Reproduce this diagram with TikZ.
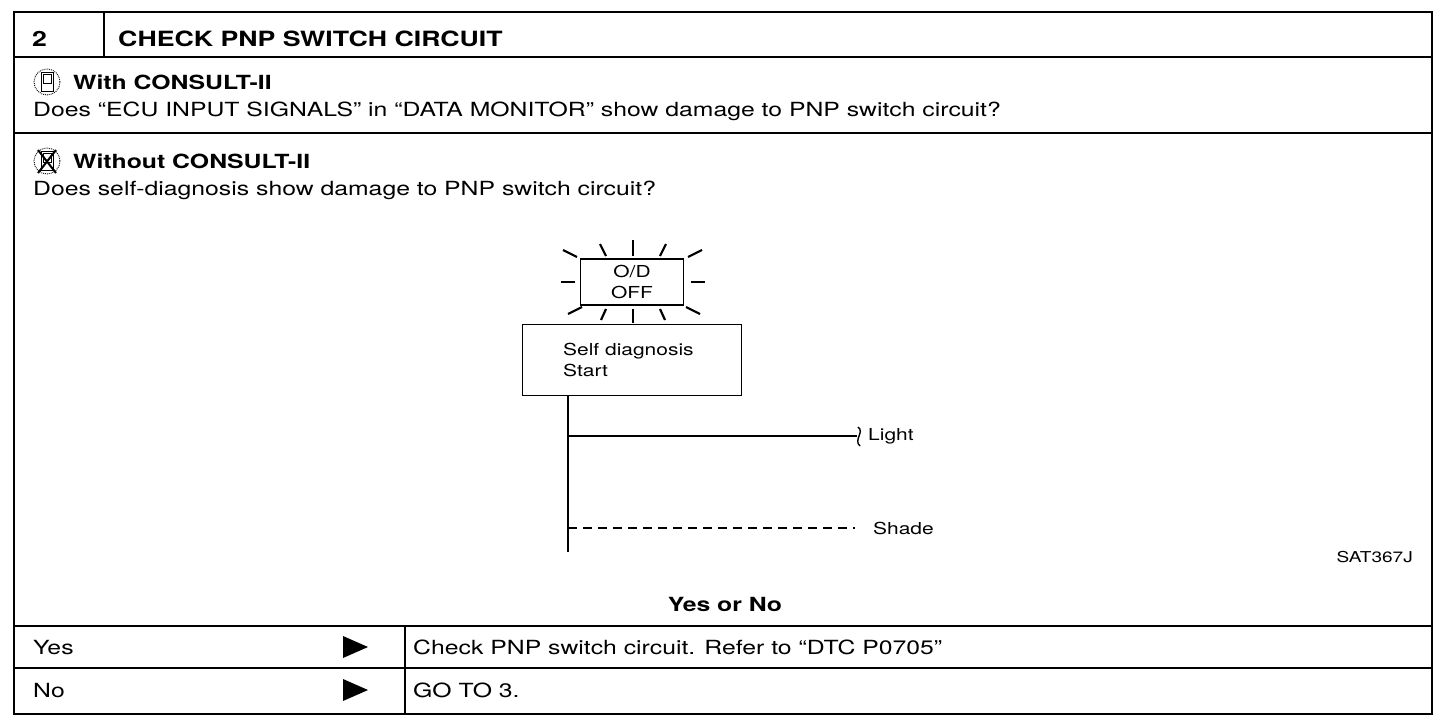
\documentclass[tikz,border=0pt]{standalone}
\usepackage{fontspec}
\setmainfont{TeX Gyre Heros}[FakeStretch=1.27]
\usetikzlibrary{positioning}
\begin{document}
\begin{tikzpicture}[x=1pt,y=-1pt,
  txt/.style={inner sep=0pt,anchor=base west,font=\fontsize{19.5}{23}\selectfont},
  bld/.style={txt,font=\fontsize{19.5}{23}\selectfont\bfseries},
  lbl/.style={inner sep=0pt,font=\fontsize{16.5}{21}\selectfont},
  frame/.style={line width=2.6pt},
  rule/.style={line width=1.6pt},
  wire/.style={line width=1.4pt},
  ray/.style={line width=2.2pt}]
\useasboundingbox (0,0) rectangle (1456,726);

% table
\draw[rule] (14,57) -- (1432,57);
\draw[rule] (104,12) -- (104,57);
\draw[rule] (14,133) -- (1432,133);
\draw[rule] (14,626) -- (1432,626);
\draw[rule] (14,668) -- (1432,668);
\draw[rule] (405,626) -- (405,714);
\draw[frame] (14,12) rectangle (1432,714);

\node[bld,font=\fontsize{21}{24}\selectfont\bfseries] (num) at (32,46) {2};
\node[bld,font=\fontsize{21}{24}\selectfont\bfseries] (title) at (118,46) {CHECK PNP SWITCH CIRCUIT};

% with consult
\draw[densely dotted, line width=0.9pt] (47,82) circle[radius=13pt];
\draw[line width=0.9pt] (41,72) rectangle (53,91) (43,74) rectangle (51,83);
\node[bld] (with) at (73,89) {With CONSULT-II};
\node[txt] (askA) at (33,116) {Does “ECU INPUT SIGNALS” in “DATA MONITOR” show damage to PNP switch circuit?};

% without consult
\draw[densely dotted, line width=0.9pt] (47,161) circle[radius=13pt];
\draw[line width=0.9pt] (41,151) rectangle (53,170) (43,153) rectangle (51,162);
\draw[line width=2pt] (38,150) -- (56,173) (56,150) -- (38,173);
\node[bld] (without) at (73,168) {Without CONSULT-II};
\node[txt] (askB) at (33,195) {Does self-diagnosis show damage to PNP switch circuit?};

% lamp
\node[draw,wire,lbl,minimum width=103pt,minimum height=46pt,align=center] (lamp) at (632,282) {O/D\\OFF};
\foreach \a/\b in {{(563,250)}/{(577,257)},{(600,244)}/{(606,256)},{(633,240)}/{(633,256)},
  {(666,244)}/{(660,256)},{(702,250)}/{(688,257)},{(561,282)}/{(575,282)},{(691,282)}/{(705,282)},
  {(568,314)}/{(582,307)},{(601,320)}/{(606,309)},{(633,323)}/{(633,309)},{(665,320)}/{(660,309)},
  {(700,314)}/{(686,307)}}
  \draw[ray] \a -- \b;

\node[draw,wire,minimum width=219pt,minimum height=71pt,anchor=north west] (sdbox) at (522,324) {};
\node[lbl,anchor=west,align=left] (sdtext) at (563,360) {Self diagnosis\\Start};

\coordinate (tail) at (568,552);
\coordinate (lt) at (568,436);
\coordinate (sh) at (568,528);
\node[lbl,anchor=west] (light) at (868,436) {Light};
\node[lbl,anchor=west] (shade) at (873,528) {Shade};
\draw[wire] (sdbox.south -| tail) -- (tail);
\draw[wire] (lt) -- ([xshift=-11pt]light.west);
\draw[wire] (858,427) .. controls (865,432) and (853,440) .. (860,446);
\draw[wire,dash pattern=on 9pt off 6pt] (sh) -- ([xshift=-18pt]shade.west);

\node[inner sep=0pt,anchor=east,font=\fontsize{15}{18}\selectfont] (code) at (1413,557) {SAT367J};

% answers
\node[bld,anchor=center] (yesno) at (725,604) {Yes or No};
\node[txt] (yes) at (33,654) {Yes};
\node[txt] (no) at (33,697) {No};
\node[txt] (yesact) at (413,654) {Check PNP switch circuit. Refer to “DTC P0705”};
\node[txt] (noact) at (413,697) {GO TO 3.};
\foreach \y in {647,690}
  \fill (343,\y-11) -- (368,\y) -- (343,\y+11) -- cycle;
\end{tikzpicture}
\end{document}
